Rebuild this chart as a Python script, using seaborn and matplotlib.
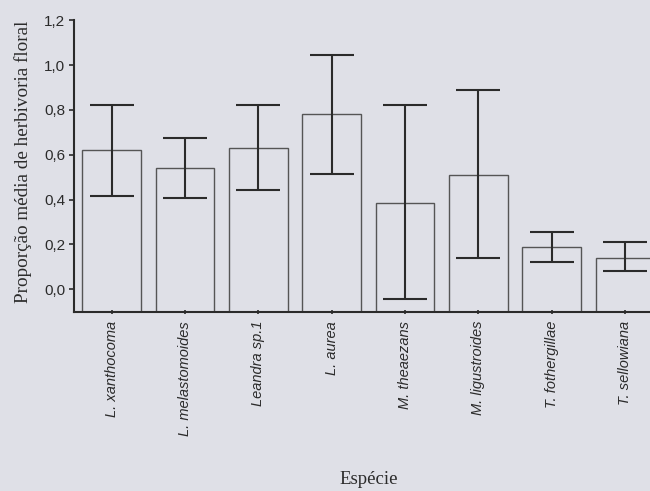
import numpy as np
import pandas as pd
import matplotlib
matplotlib.use("Agg")
import matplotlib.pyplot as plt
import seaborn as sns

# Mean proportion of floral herbivory per species, with interval limits
species = ["L. xanthocoma", "L. melastomoides", "Leandra sp.1", "L. aurea",
           "M. theaezans", "M. ligustroides", "T. fothergillae", "T. sellowiana"]
means = [0.62, 0.54, 0.63, 0.78, 0.385, 0.51, 0.19, 0.14]
upper = [0.82, 0.675, 0.82, 1.045, 0.82, 0.89, 0.255, 0.21]
lower = [0.415, 0.405, 0.445, 0.515, -0.045, 0.14, 0.12, 0.08]
yticks = [0.0, 0.2, 0.4, 0.6, 0.8, 1.0, 1.2]

df = pd.DataFrame({"Espécie": species, "Proporção": means})

sns.set_style("white")
plt.rcParams["font.family"] = ["Liberation Sans", "DejaVu Sans"]

paper = "#dfe0e7"
ink = "#2b2b2b"

fig = plt.figure(figsize=(6.5, 4.91), dpi=100, facecolor=paper)
ax = fig.add_axes([0.114, 0.365, 0.886, 0.594])
ax.set_facecolor("none")

sns.barplot(data=df, x="Espécie", y="Proporção", ax=ax, width=0.8,
            color=paper, edgecolor="#555555", linewidth=1.0,
            errorbar=None, saturation=1)

y_floor = -0.1
ymax = 1.2
# bars rest on the bottom spine
for patch, m in zip(ax.patches, means):
    patch.set_y(y_floor)
    patch.set_height(m - y_floor)
    patch.set_facecolor("none")

x = np.arange(len(species))
m = np.array(means)
ax.errorbar(x, m, yerr=[m - np.array(lower), np.array(upper) - m],
            fmt="none", ecolor=ink, elinewidth=1.5, capsize=15.5,
            capthick=1.5, zorder=3)

ax.set_xlim(-0.514, 7.34)
ax.set_ylim(y_floor, ymax)
ax.set_yticks(yticks)
ax.set_yticklabels([f"{v:.1f}".replace(".", ",") for v in yticks],
                   fontsize=11, color=ink)
ax.set_xticks(x)
ax.set_xticklabels(species, rotation=90, fontsize=10.5, style="italic",
                   color=ink, va="top")

for side in ["top", "right"]:
    ax.spines[side].set_visible(False)
for side in ["left", "bottom"]:
    ax.spines[side].set_color(ink)
    ax.spines[side].set_linewidth(1.5)

ax.tick_params(axis="y", direction="out", length=3.5, width=1.2,
               color=ink, pad=3, left=True)
ax.tick_params(axis="x", direction="inout", length=3, width=1.2,
               color=ink, pad=5, bottom=True)

ax.set_ylabel("Proporção média de herbivoria floral",
              family="Liberation Serif", fontsize=13.8, color=ink)
ax.yaxis.set_label_coords(-0.073, 0.515)
ax.set_xlabel("")
fig.text(0.568, 0.006, "Espécie", family="Liberation Serif",
         fontsize=13.5, color=ink, ha="center", va="bottom")

fig.savefig("out.png", dpi=100, facecolor=paper)
